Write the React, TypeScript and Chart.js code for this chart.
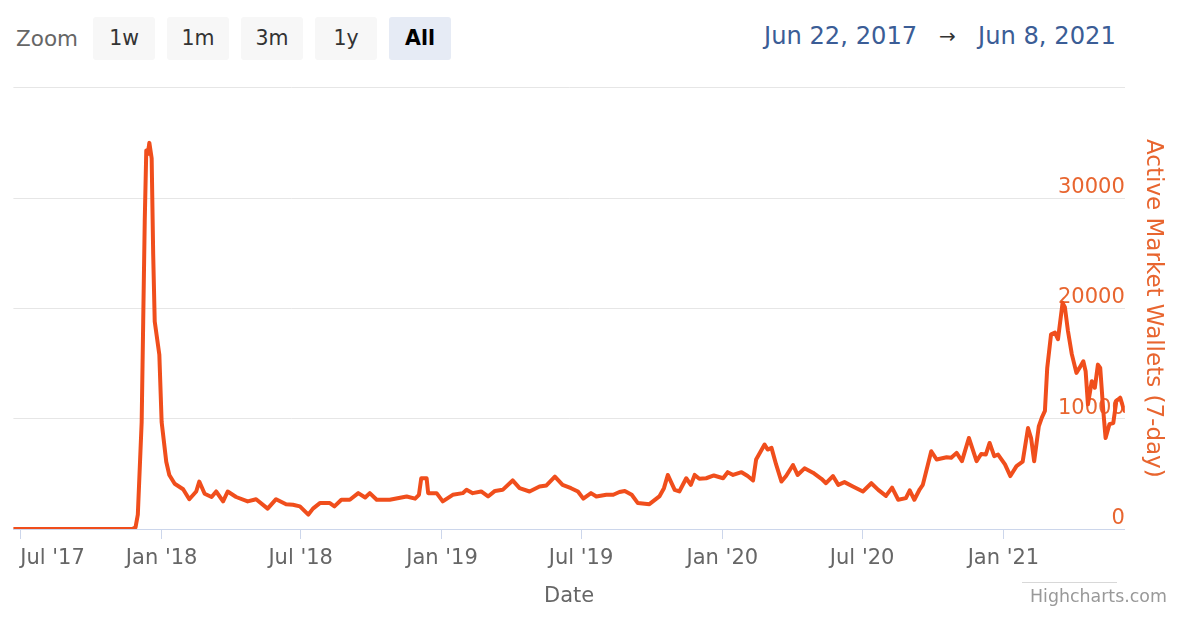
import React, { useEffect, useRef } from "react";
import { Chart, registerables } from "chart.js";

Chart.register(...registerables);

// ---------- data ----------
const DATES: string[] = [
  "2017-06-22", "2017-11-24", "2017-11-28", "2017-12-01", "2017-12-06", "2017-12-08", "2017-12-10",
  "2017-12-12", "2017-12-14", "2017-12-16", "2017-12-19", "2017-12-21", "2017-12-23", "2017-12-29",
  "2018-01-01", "2018-01-07", "2018-01-11", "2018-01-18", "2018-01-29", "2018-02-06", "2018-02-15",
  "2018-02-19", "2018-02-26", "2018-03-07", "2018-03-13", "2018-03-22", "2018-03-28", "2018-04-08",
  "2018-04-23", "2018-05-04", "2018-05-19", "2018-05-30", "2018-06-12", "2018-06-21", "2018-06-30",
  "2018-07-11", "2018-07-17", "2018-07-26", "2018-08-08", "2018-08-14", "2018-08-23", "2018-09-03",
  "2018-09-14", "2018-09-23", "2018-09-29", "2018-10-08", "2018-10-25", "2018-11-16", "2018-11-27",
  "2018-12-02", "2018-12-05", "2018-12-12", "2018-12-14", "2018-12-25", "2019-01-02", "2019-01-15",
  "2019-01-28", "2019-02-02", "2019-02-10", "2019-02-21", "2019-03-02", "2019-03-11", "2019-03-21",
  "2019-04-03", "2019-04-12", "2019-04-25", "2019-05-08", "2019-05-17", "2019-05-28", "2019-06-07",
  "2019-06-18", "2019-06-27", "2019-07-04", "2019-07-14", "2019-07-21", "2019-08-03", "2019-08-12",
  "2019-08-20", "2019-08-27", "2019-09-05", "2019-09-13", "2019-09-28", "2019-10-11", "2019-10-17",
  "2019-10-22", "2019-10-26", "2019-10-31", "2019-11-06", "2019-11-15", "2019-11-21", "2019-11-26",
  "2019-12-02", "2019-12-11", "2019-12-21", "2020-01-02", "2020-01-08", "2020-01-15", "2020-01-26",
  "2020-02-03", "2020-02-10", "2020-02-14", "2020-02-25", "2020-02-29", "2020-03-05", "2020-03-11",
  "2020-03-18", "2020-03-24", "2020-04-02", "2020-04-08", "2020-04-17", "2020-04-28", "2020-05-09",
  "2020-05-15", "2020-05-24", "2020-05-31", "2020-06-08", "2020-06-19", "2020-07-02", "2020-07-13",
  "2020-07-22", "2020-08-01", "2020-08-09", "2020-08-17", "2020-08-27", "2020-09-01", "2020-09-07",
  "2020-09-14", "2020-09-18", "2020-09-29", "2020-10-06", "2020-10-19", "2020-10-25", "2020-11-01",
  "2020-11-08", "2020-11-17", "2020-11-27", "2020-12-03", "2020-12-09", "2020-12-14", "2020-12-20",
  "2020-12-25", "2021-01-03", "2021-01-10", "2021-01-18", "2021-01-26", "2021-02-02", "2021-02-06",
  "2021-02-10", "2021-02-16", "2021-02-20", "2021-02-24", "2021-02-27", "2021-03-04", "2021-03-09",
  "2021-03-13", "2021-03-19", "2021-03-22", "2021-03-26", "2021-03-31", "2021-04-06", "2021-04-10",
  "2021-04-15", "2021-04-18", "2021-04-21", "2021-04-26", "2021-04-30", "2021-05-04", "2021-05-07",
  "2021-05-11", "2021-05-14", "2021-05-19", "2021-05-24", "2021-05-28", "2021-06-02", "2021-06-06",
  "2021-06-08",
];

const ACTIVE_WALLETS: number[] = [
  0, 0, 150, 1300, 9700, 18800, 27900,
  34300, 34000, 35000, 33600, 24900, 18800, 15800,
  9700, 6100, 4900, 4100, 3600, 2700, 3400,
  4300, 3200, 2900, 3400, 2500, 3400, 2900,
  2500, 2700, 1850, 2700, 2250, 2200, 2050,
  1300, 1850, 2350, 2350, 2050, 2650, 2650,
  3250, 2850, 3250, 2650, 2650, 2950, 2750,
  3100, 4600, 4600, 3250, 3250, 2500, 3100,
  3250, 3550, 3250, 3400, 2950, 3450, 3550,
  4400, 3700, 3400, 3850, 3950, 4750, 4000,
  3700, 3400, 2750, 3250, 2950, 3100, 3100,
  3350, 3450, 3100, 2350, 2250, 2950, 3700,
  4900, 4300, 3550, 3400, 4600, 4000, 4900,
  4550, 4600, 4850, 4600, 5150, 4900, 5150,
  4800, 4400, 6300, 7650, 7200, 7350, 5850,
  4300, 4800, 5800, 4900, 5500, 5100, 4550,
  4150, 4800, 4000, 4250, 3850, 3400, 4150,
  3550, 3000, 3750, 2650, 2800, 3500, 2650,
  3600, 4000, 7050, 6300, 6500, 6450, 6900,
  6150, 8250, 6150, 6800, 6750, 7800, 6600,
  6750, 5850, 4800, 5700, 6100, 9150, 8250,
  6150, 9300, 10100, 10700, 14600, 17650, 17800,
  17200, 20500, 20100, 17950, 15850, 14150, 14600,
  15200, 14300, 11300, 13400, 12800, 14900, 14600,
  10700, 8250, 9500, 9600, 11600, 11900, 11000,
  10700,
];

const X_TICK_DATES: string[] = [
  "2017-07-01", "2018-01-01", "2018-07-01", "2019-01-01",
  "2019-07-01", "2020-01-01", "2020-07-01", "2021-01-01",
];
const X_TICK_LABELS: string[] = [
  "Jul '17", "Jan '18", "Jul '18", "Jan '19", "Jul '19", "Jan '20", "Jul '20", "Jan '21",
];
const Y_TICK_VALUES: number[] = [0, 10000, 20000, 30000, 40000];

const RANGE_START = "2017-06-22";
const RANGE_END = "2021-06-08";
const ZOOM_BUTTONS: string[] = ["1w", "1m", "3m", "1y", "All"];
const MONTHS = ["Jan", "Feb", "Mar", "Apr", "May", "Jun", "Jul", "Aug", "Sep", "Oct", "Nov", "Dec"];

// ---------- styles ----------
const FONT = "'DejaVu Sans', Verdana, sans-serif";
const LINE_COLOR = "#f04e1c";
const AXIS_ORANGE = "#e8652f";

const toTime = (s: string) => Date.parse(s + "T00:00:00Z");
const fmtDate = (s: string) => {
  const d = new Date(toTime(s));
  return `${MONTHS[d.getUTCMonth()]} ${d.getUTCDate()}, ${d.getUTCFullYear()}`;
};

export default function App() {
  const canvasRef = useRef<HTMLCanvasElement | null>(null);

  useEffect(() => {
    const canvas = canvasRef.current;
    if (!canvas) return;
    const points = DATES.map((d, i) => ({ x: toTime(d), y: ACTIVE_WALLETS[i] }));
    const chart = new Chart(canvas, {
      type: "line",
      data: {
        datasets: [
          {
            data: points,
            borderColor: LINE_COLOR,
            backgroundColor: LINE_COLOR,
            borderWidth: 4,
            pointRadius: 0,
            tension: 0,
            fill: false,
            borderJoinStyle: "round",
            borderCapStyle: "round",
          },
        ],
      },
      options: {
        animation: false,
        responsive: false,
        devicePixelRatio: 1,
        layout: { padding: { left: 13.4, top: 87.7, right: 29.2, bottom: 9.4 } },
        plugins: { legend: { display: false }, tooltip: { enabled: false } },
        scales: {
          x: {
            type: "linear",
            min: toTime(RANGE_START),
            max: toTime(RANGE_END),
            afterBuildTicks: (scale: any) => {
              scale.ticks = [
                ...X_TICK_DATES.map((d) => ({ value: toTime(d) })),
                { value: toTime(RANGE_END) },
              ];
            },
            ticks: {
              autoSkip: false,
              maxRotation: 0,
              minRotation: 0,
              align: "inner",
              padding: 7,
              color: "#666666",
              font: { family: FONT, size: 21 },
              callback: (_v: any, i: number) => X_TICK_LABELS[i] ?? "",
            },
            grid: {
              drawOnChartArea: false,
              drawTicks: true,
              tickLength: 10,
              tickWidth: 1,
              tickColor: (ctx: any) =>
                ctx.index < X_TICK_LABELS.length ? "#ccd6eb" : "rgba(0,0,0,0)",
            },
            border: { display: true, color: "#ccd6eb", width: 1 },
            title: {
              display: true,
              text: "Date",
              color: "#666666",
              font: { family: FONT, size: 21 },
              padding: { top: 6.2, bottom: 0 },
            },
          },
          y: {
            position: "right",
            min: 0,
            max: 40000,
            afterBuildTicks: (scale: any) => {
              scale.ticks = Y_TICK_VALUES.map((v) => ({ value: v }));
            },
            ticks: {
              mirror: true,
              padding: 0,
              labelOffset: -10.5,
              color: AXIS_ORANGE,
              font: { family: FONT, size: 21 },
              callback: (v: any) => (v === 40000 ? "" : String(v)),
            },
            grid: {
              drawTicks: false,
              lineWidth: 1,
              color: (ctx: any) => (ctx.tick && ctx.tick.value === 0 ? "rgba(0,0,0,0)" : "#e6e6e6"),
            },
            border: { display: false },
            title: {
              display: true,
              text: "Active Market Wallets (7-day)",
              color: AXIS_ORANGE,
              font: { family: FONT, size: 23 },
              padding: { top: 0, bottom: 14.4 },
            },
          },
        },
      } as any,
    });
    return () => chart.destroy();
  }, []);

  return (
    <div
      style={{
        position: "fixed",
        left: 0,
        top: 0,
        width: 1196,
        height: 619,
        background: "#ffffff",
        overflow: "hidden",
        fontFamily: FONT,
      }}
    >
      <div
        style={{
          position: "absolute",
          left: 16,
          top: 17,
          height: 43,
          lineHeight: "43px",
          fontSize: 21.5,
          color: "#666666",
        }}
      >
        Zoom
      </div>
      {ZOOM_BUTTONS.map((b, i) => {
        const active = b === "All";
        return (
          <div
            key={b}
            style={{
              position: "absolute",
              left: 92.7 + i * 74,
              top: 17,
              width: 62.7,
              height: 42.7,
              lineHeight: "42.7px",
              borderRadius: 3,
              textAlign: "center",
              fontSize: 20.5,
              background: active ? "#e6ebf5" : "#f7f7f7",
              color: active ? "#000000" : "#333333",
              fontWeight: active ? "bold" : "normal",
            }}
          >
            {b}
          </div>
        );
      })}
      <div
        style={{
          position: "absolute",
          left: 764,
          top: 15,
          height: 42,
          lineHeight: "42px",
          fontSize: 24.2,
          color: "#3b5d96",
          whiteSpace: "nowrap",
        }}
      >
        {fmtDate(RANGE_START)}
      </div>
      <div
        style={{
          position: "absolute",
          left: 939,
          top: 15,
          height: 42,
          lineHeight: "42px",
          fontSize: 20,
          color: "#333333",
        }}
      >
        →
      </div>
      <div
        style={{
          position: "absolute",
          left: 978,
          top: 15,
          height: 42,
          lineHeight: "42px",
          fontSize: 24.2,
          color: "#3b5d96",
          whiteSpace: "nowrap",
        }}
      >
        {fmtDate(RANGE_END)}
      </div>
      <canvas
        ref={canvasRef}
        width={1196}
        height={619}
        style={{ position: "absolute", left: 0, top: 0, width: 1196, height: 619, display: "block" }}
      />
      <div
        style={{
          position: "absolute",
          left: 1022,
          top: 582,
          width: 95,
          height: 1,
          background: "#d8d8d8",
        }}
      />
      <div
        style={{
          position: "absolute",
          left: 1030,
          top: 584,
          height: 24,
          lineHeight: "24px",
          fontSize: 17.4,
          color: "#999999",
          whiteSpace: "nowrap",
        }}
      >
        Highcharts.com
      </div>
    </div>
  );
}
